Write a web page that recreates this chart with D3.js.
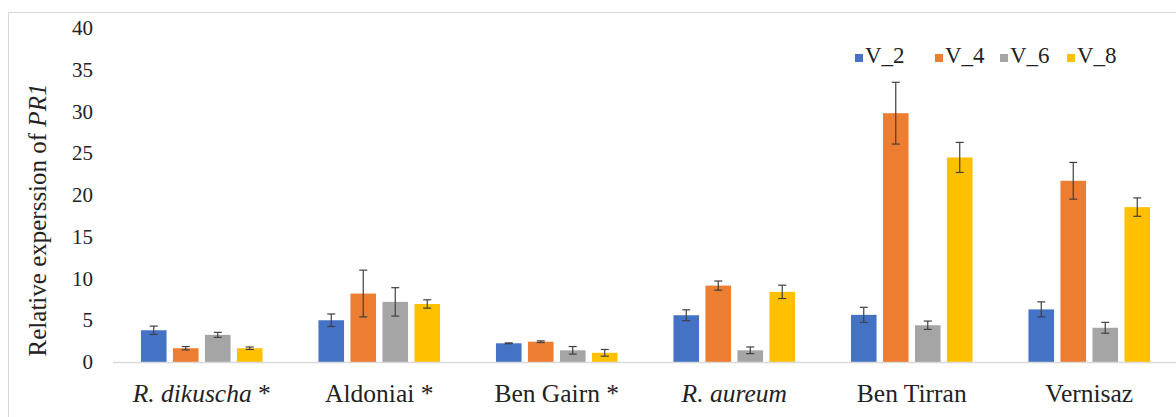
<!DOCTYPE html>
<html>
<head>
    <meta charset="utf-8">
    <script src="https://cdn.jsdelivr.net/npm/d3@7"></script>
</head>
<body style="margin:0">
<script>
    // DATA
    const categories = ["R. dikuscha *", "Aldoniai *", "Ben Gairn *", "R. aureum", "Ben Tirran", "Vernisaz"];
    const italicPart = {"R. dikuscha *": "R. dikuscha", "R. aureum": "R. aureum"};
    const series = ["V_2", "V_4", "V_6", "V_8"];
    const v2 = [3.8, 5.0, 2.24, 5.6, 5.65, 6.3];
    const v4 = [1.65, 8.2, 2.43, 9.15, 29.8, 21.7];
    const v6 = [3.25, 7.2, 1.4, 1.4, 4.4, 4.1];
    const v8 = [1.65, 6.95, 1.1, 8.4, 24.5, 18.55];
    const e2 = [0.5, 0.75, 0.05, 0.65, 0.9, 0.9];
    const e4 = [0.2, 2.8, 0.1, 0.55, 3.7, 2.2];
    const e6 = [0.3, 1.7, 0.45, 0.4, 0.5, 0.65];
    const e8 = [0.15, 0.5, 0.4, 0.8, 1.8, 1.1];
    const yTicks = [0, 5, 10, 15, 20, 25, 30, 35, 40];
    const colors = ["#4472C4", "#ED7D31", "#A5A5A5", "#FFC000"];

    const values = [v2, v4, v6, v8];
    const errors = [e2, e4, e6, e8];

    const serif = "Liberation Serif";
    const dim = {width: 1176, height: 417, margin: {top: 28, right: -2, bottom: 55, left: 113}};

    const svg = d3.select("body").append("svg")
        .attr("width", dim.width)
        .attr("height", dim.height);

    // outer frame (right and bottom edges fall outside the picture)
    svg.append("rect")
        .attr("x", 8.5).attr("y", 12.5)
        .attr("width", 1180).attr("height", 420)
        .attr("fill", "none")
        .attr("stroke", "#d9d9d9");

    const x0 = d3.scaleBand()
        .domain(categories)
        .range([dim.margin.left, dim.width - dim.margin.right])
        .paddingInner(0.315)
        .paddingOuter(0.1575);
    const x1 = d3.scaleBand()
        .domain(series)
        .range([0, x0.bandwidth()])
        .paddingInner(0.2);
    const y = d3.scaleLinear()
        .domain([0, 40])
        .range([dim.height - dim.margin.bottom, dim.margin.top]);

    const color = d3.scaleOrdinal(series, colors);

    const rows = categories.map((c, i) => ({
        cat: c,
        bars: series.map((s, j) => ({s, v: values[j][i], e: errors[j][i]}))
    }));

    // y axis labels (no line)
    const yAxis = d3.axisLeft(y).tickValues(yTicks).tickSize(0).tickPadding(20);
    const gy = svg.append("g")
        .attr("transform", `translate(${dim.margin.left},0)`)
        .call(yAxis)
        .attr("font-family", serif)
        .attr("font-size", 21);
    gy.select(".domain").remove();
    gy.selectAll("text").attr("fill", "#222");

    // bars
    const groups = svg.selectAll("g.cat")
        .data(rows)
        .join("g")
        .attr("class", "cat")
        .attr("transform", d => `translate(${x0(d.cat)},0)`);

    groups.selectAll("rect")
        .data(d => d.bars)
        .join("rect")
        .attr("x", d => x1(d.s))
        .attr("y", d => y(d.v))
        .attr("width", x1.bandwidth())
        .attr("height", d => y(0) - y(d.v))
        .attr("fill", d => color(d.s));

    // error bars
    const err = groups.selectAll("g.err")
        .data(d => d.bars)
        .join("g")
        .attr("class", "err")
        .attr("stroke", "#404040")
        .attr("stroke-width", 1.2);
    const cx = d => x1(d.s) + x1.bandwidth() / 2;
    err.append("line")
        .attr("x1", cx).attr("x2", cx)
        .attr("y1", d => y(d.v + d.e)).attr("y2", d => y(d.v - d.e));
    err.append("line")
        .attr("x1", d => cx(d) - 4).attr("x2", d => cx(d) + 4)
        .attr("y1", d => y(d.v + d.e)).attr("y2", d => y(d.v + d.e));
    err.append("line")
        .attr("x1", d => cx(d) - 4).attr("x2", d => cx(d) + 4)
        .attr("y1", d => y(d.v - d.e)).attr("y2", d => y(d.v - d.e));

    // baseline
    svg.append("line")
        .attr("x1", dim.margin.left).attr("x2", dim.width)
        .attr("y1", y(0) + 0.5).attr("y2", y(0) + 0.5)
        .attr("stroke", "#d9d9d9")
        .attr("stroke-width", 1.3);

    // category labels
    const cl = svg.selectAll("text.cat-label")
        .data(categories)
        .join("text")
        .attr("class", "cat-label")
        .attr("x", d => x0(d) + x0.bandwidth() / 2)
        .attr("y", y(0) + 40)
        .attr("text-anchor", "middle")
        .attr("font-family", serif)
        .attr("font-size", 25.5)
        .attr("fill", "#222");
    cl.each(function(d) {
        const t = d3.select(this);
        if (italicPart[d]) {
            t.append("tspan").attr("font-style", "italic").text(italicPart[d]);
            t.append("tspan").text(d.slice(italicPart[d].length));
        } else {
            t.text(d);
        }
    });

    // y title
    svg.append("text")
        .attr("transform", `translate(46, 220) rotate(-90)`)
        .attr("text-anchor", "middle")
        .attr("font-family", serif)
        .attr("font-size", 25)
        .attr("fill", "#222")
        .call(t => {
            t.append("tspan").text("Relative experssion of ");
            t.append("tspan").attr("font-style", "italic").text("PR1");
        });

    // legend
    const legendX = [855, 935, 1000, 1067];
    const legend = svg.append("g").attr("class", "legend");
    const li = legend.selectAll("g")
        .data(series)
        .join("g")
        .attr("transform", (d, i) => `translate(${legendX[i]}, 58)`);
    li.append("rect")
        .attr("x", 0).attr("y", -4)
        .attr("width", 8).attr("height", 8)
        .attr("fill", d => color(d));
    li.append("text")
        .attr("x", 10).attr("y", 5)
        .attr("font-family", serif)
        .attr("font-size", 23)
        .attr("fill", "#222")
        .text(d => d);
</script>
</body>
</html>
